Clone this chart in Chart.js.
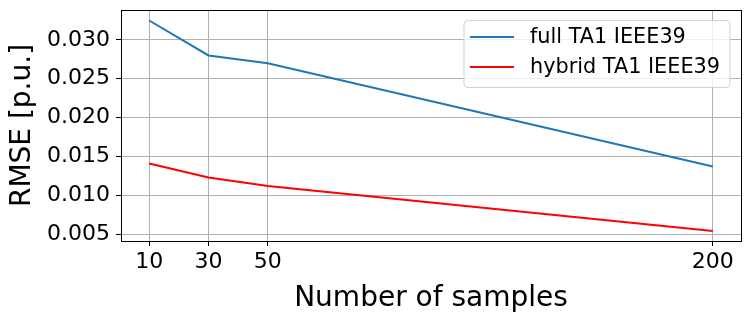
<!DOCTYPE html>
<html>
<head>
<meta charset="utf-8">
<script src="https://cdn.jsdelivr.net/npm/chart.js@4"></script>
<style>
  html, body { margin: 0; padding: 0; background: #fff; }
  #wrap { width: 750px; height: 318px; }
</style>
</head>
<body>
<div id="wrap"><canvas id="myChart"></canvas></div>
<script>
const samples = [10, 30, 50, 200];
const fullTA1 = [0.0325, 0.0280, 0.0270, 0.0137];
const hybridTA1 = [0.0141, 0.0123, 0.0112, 0.0054];
const xTicks = [10, 30, 50, 200];
const yTicks = [0.005, 0.010, 0.015, 0.020, 0.025, 0.030];

const font = 'DejaVu Sans';

// black box around the axes + matplotlib style legend in the upper right
const frameAndLegend = {
  id: 'frameAndLegend',
  afterDatasetsDraw(chart) {
    const {ctx, chartArea} = chart;
    ctx.save();
    ctx.strokeStyle = '#000';
    ctx.lineWidth = 1;
    ctx.strokeRect(Math.round(chartArea.left) + 0.5, Math.round(chartArea.top) + 0.5,
      Math.round(chartArea.right - chartArea.left), Math.round(chartArea.bottom - chartArea.top));

    ctx.font = '20.8px "' + font + '"';
    let maxW = 0;
    chart.data.datasets.forEach(ds => { maxW = Math.max(maxW, ctx.measureText(ds.label).width); });
    const boxW = 6 + 44 + 16 + maxW + 10;
    const boxH = 67;
    const x0 = chartArea.right - 11 - boxW;
    const y0 = chartArea.top + 10.5;
    ctx.beginPath();
    ctx.roundRect(x0, y0, boxW, boxH, 4);
    ctx.fillStyle = 'rgba(255,255,255,0.8)';
    ctx.fill();
    ctx.strokeStyle = '#d0d0d0';
    ctx.stroke();

    chart.data.datasets.forEach((ds, i) => {
      const cy = y0 + 16.5 + i * 30;
      ctx.beginPath();
      ctx.moveTo(x0 + 6, cy);
      ctx.lineTo(x0 + 50, cy);
      ctx.strokeStyle = ds.borderColor;
      ctx.lineWidth = 2;
      ctx.stroke();
      ctx.fillStyle = '#000';
      ctx.textBaseline = 'middle';
      ctx.textAlign = 'left';
      ctx.fillText(ds.label, x0 + 66, cy + 1);
    });
    ctx.restore();
  }
};

let ctx = document.getElementById('myChart');
let myChart = new Chart(ctx, {
  type: 'line',
  data: {
    datasets: [{
      label: 'full TA1 IEEE39',
      data: samples.map((s, i) => ({x: s, y: fullTA1[i]})),
      borderColor: '#1f77b4',
      borderWidth: 2,
      pointRadius: 0,
      fill: false
    }, {
      label: 'hybrid TA1 IEEE39',
      data: samples.map((s, i) => ({x: s, y: hybridTA1[i]})),
      borderColor: '#ff0000',
      borderWidth: 2,
      pointRadius: 0,
      fill: false
    }]
  },
  options: {
    responsive: true,
    maintainAspectRatio: false,
    animation: false,
    layout: { padding: { top: 10, right: 9, left: 0, bottom: 0 } },
    elements: { line: { tension: 0 } },
    plugins: {
      legend: { display: false },
      tooltip: { enabled: false }
    },
    scales: {
      x: {
        type: 'linear',
        min: 0.5,
        max: 209.5,
        afterBuildTicks: axis => { axis.ticks = xTicks.map(v => ({value: v})); },
        afterFit: axis => { axis.height = 77; axis.paddingLeft = 0; axis.paddingRight = 0; },
        grid: { color: '#b0b0b0', lineWidth: 1, tickColor: '#000', tickLength: 5 },
        border: { display: false },
        ticks: {
          color: '#000',
          font: { family: font, size: 22 },
          padding: 3,
          maxRotation: 0,
          callback: v => String(v)
        },
        title: {
          display: true,
          text: 'Number of samples',
          color: '#000',
          font: { family: font, size: 28 },
          padding: { top: 0, bottom: 2 }
        }
      },
      y: {
        min: 0.00412,
        max: 0.03385,
        afterBuildTicks: axis => { axis.ticks = yTicks.map(v => ({value: v})); },
        afterFit: axis => { axis.width = 121; axis.paddingTop = 0; axis.paddingBottom = 0; },
        grid: { color: '#b0b0b0', lineWidth: 1, tickColor: '#000', tickLength: 5 },
        border: { display: false },
        ticks: {
          color: '#000',
          font: { family: font, size: 22 },
          padding: 6,
          callback: v => v.toFixed(3)
        },
        title: {
          display: true,
          text: 'RMSE [p.u.]',
          color: '#000',
          font: { family: font, size: 28 },
          padding: { top: 6, bottom: 0 }
        }
      }
    }
  },
  plugins: [frameAndLegend]
});
</script>
</body>
</html>
